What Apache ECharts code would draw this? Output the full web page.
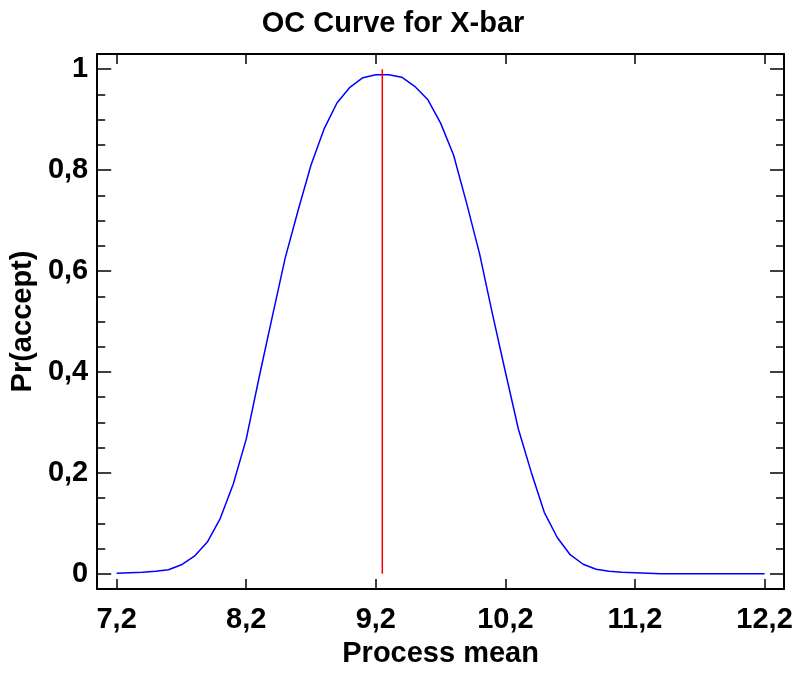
<!DOCTYPE html>
<html>
<head>
<meta charset="utf-8">
<script src="https://cdn.jsdelivr.net/npm/echarts@6/dist/echarts.min.js"></script>
<style>
html,body{margin:0;padding:0;background:#fff;}
#chart{width:799px;height:675px;}
</style>
</head>
<body>
<div id="chart"></div>
<script>
var processMean = [7.2,7.3,7.4,7.5,7.6,7.7,7.8,7.9,8.0,8.1,8.2,8.3,8.4,8.5,8.6,8.7,8.8,8.9,9.0,9.1,
  9.2,9.3,9.4,9.5,9.6,9.7,9.8,9.9,10.0,10.1,10.2,10.3,10.4,10.5,10.6,10.7,10.8,10.9,11.0,11.1,
  11.2,11.3,11.4,11.5,11.6,11.7,11.8,11.9,12.0,12.1,12.2];
var prAccept = [0.001,0.002,0.003,0.005,0.008,0.018,0.035,0.063,0.110,0.178,
  0.267,0.390,0.508,0.625,0.720,0.810,0.881,0.933,0.964,0.983,
  0.989,0.989,0.984,0.966,0.940,0.893,0.830,0.735,0.635,0.515,
  0.400,0.287,0.201,0.122,0.072,0.038,0.019,0.009,0.005,0.003,
  0.002,0.001,0,0,0,0,0,0,0,0,0];
var targetMean = 9.25;
var targetLine = [0, 1];
var xTicks = [7.2, 8.2, 9.2, 10.2, 11.2, 12.2];
var yTicks = [0, 0.2, 0.4, 0.6, 0.8, 1];
var yMinorTicks = [0.05,0.1,0.15,0.25,0.3,0.35,0.45,0.5,0.55,0.65,0.7,0.75,0.85,0.9,0.95];

var FONT = '"Liberation Sans", Arial, Helvetica, sans-serif';
var xMin = 7.05, xMax = 12.35, yMin = -0.03, yMax = 1.03;

function fmt(v){ return String(Math.round(v*10)/10).replace('.', ','); }

var curve = processMean.map(function(x, i){ return [x, prAccept[i]]; });
var redLine = targetLine.map(function(y){ return [targetMean, y]; });

var lineStyleAxis = {show:true, onZero:false, lineStyle:{color:'#000', width:2}};
var noLine = {show:false, onZero:false};

var chart = echarts.init(document.getElementById('chart'), null, {renderer:'canvas'});
chart.setOption({
  animation:false,
  backgroundColor:'#fff',
  title:{
    text:'OC Curve for X-bar',
    left:393, top:9, padding:0, textAlign:'center',
    textStyle:{fontFamily:FONT, fontSize:29, fontWeight:'bold', color:'#000'}
  },
  grid:{left:97, right:15, top:54, bottom:86, containLabel:false},
  xAxis:[{
    type:'value', position:'bottom', min:xMin, max:xMax,
    name:'Process mean', nameLocation:'middle', nameGap:50,
    nameTextStyle:{fontFamily:FONT, fontSize:29, fontWeight:'bold', color:'#000'},
    axisLine:lineStyleAxis,
    axisTick:{show:true, inside:true, length:10, lineStyle:{color:'#000', width:1.5}, customValues:xTicks},
    axisLabel:{show:true, margin:16, customValues:xTicks, formatter:fmt,
      fontFamily:FONT, fontSize:29, fontWeight:'bold', color:'#000'},
    splitLine:{show:false}
  },{
    type:'value', position:'top', min:xMin, max:xMax,
    axisLine:lineStyleAxis,
    axisTick:{show:true, inside:true, length:10, lineStyle:{color:'#000', width:1.5}, customValues:xTicks},
    axisLabel:{show:false},
    splitLine:{show:false}
  }],
  yAxis:[{
    type:'value', position:'left', min:yMin, max:yMax,
    name:'Pr(accept)', nameLocation:'middle', nameGap:53,
    nameTextStyle:{fontFamily:FONT, fontSize:29, fontWeight:'bold', color:'#000'},
    axisLine:lineStyleAxis,
    axisTick:{show:true, inside:true, length:14, lineStyle:{color:'#000', width:1.5}, customValues:yTicks},
    axisLabel:{show:true, margin:9, customValues:yTicks, formatter:fmt,
      fontFamily:FONT, fontSize:29, fontWeight:'bold', color:'#000'},
    splitLine:{show:false}
  },{
    type:'value', position:'left', offset:0, min:yMin, max:yMax,
    axisLine:noLine,
    axisTick:{show:true, inside:true, length:8, lineStyle:{color:'#000', width:1.5}, customValues:yMinorTicks},
    axisLabel:{show:false},
    splitLine:{show:false}
  },{
    type:'value', position:'right', offset:0, min:yMin, max:yMax,
    axisLine:lineStyleAxis,
    axisTick:{show:true, inside:true, length:14, lineStyle:{color:'#000', width:1.5}, customValues:yTicks},
    axisLabel:{show:false},
    splitLine:{show:false}
  },{
    type:'value', position:'right', offset:0, min:yMin, max:yMax,
    axisLine:noLine,
    axisTick:{show:true, inside:true, length:8, lineStyle:{color:'#000', width:1.5}, customValues:yMinorTicks},
    axisLabel:{show:false},
    splitLine:{show:false}
  }],
  series:[{
    type:'line', xAxisIndex:0, yAxisIndex:0, data:curve,
    showSymbol:false, symbol:'none', smooth:false,
    lineStyle:{color:'#0000ff', width:1.5}, z:3
  },{
    type:'line', xAxisIndex:0, yAxisIndex:0, data:redLine,
    showSymbol:false, symbol:'none',
    lineStyle:{color:'#ff0000', width:1.5}, z:4
  }]
});
</script>
</body>
</html>
